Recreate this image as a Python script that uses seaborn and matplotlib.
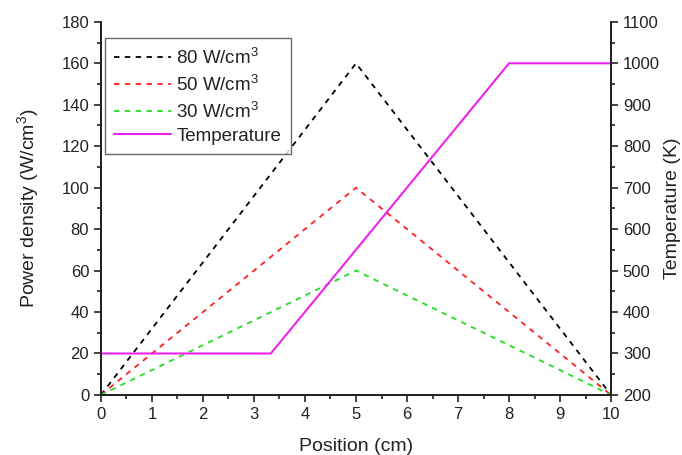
import matplotlib
matplotlib.use('Agg')
import matplotlib.pyplot as plt
from matplotlib.ticker import AutoMinorLocator
import pandas as pd
import seaborn as sns

# power density profiles (W/cm3) vs position (cm)
position = [0, 5, 10]
p80 = [0, 160, 0]
p50 = [0, 100, 0]
p30 = [0, 60, 0]

# temperature profile (K)
temp_pos = [0, 3.33, 8, 10]
temperature = [300, 300, 1000, 1000]

sns.set_style('ticks')
plt.rcParams['font.family'] = ['Liberation Sans', 'DejaVu Sans']
plt.rcParams['mathtext.fontset'] = 'custom'
plt.rcParams['mathtext.rm'] = 'Liberation Sans'
plt.rcParams['text.color'] = '#222222'
plt.rcParams['axes.labelcolor'] = '#222222'
plt.rcParams['xtick.color'] = '#222222'
plt.rcParams['ytick.color'] = '#222222'

df = pd.DataFrame({'pos': position, 'p80': p80, 'p50': p50, 'p30': p30})
tdf = pd.DataFrame({'pos': temp_pos, 'T': temperature})

fig = plt.figure(figsize=(6.82, 4.55), dpi=100)
ax = fig.add_axes([0.148, 0.132, 0.748, 0.820])
ax2 = ax.twinx()

dash = (0, (3, 3))
sns.lineplot(data=df, x='pos', y='p80', ax=ax, color='black', linestyle=dash, lw=1.3, label='80 W/cm$^3$')
sns.lineplot(data=df, x='pos', y='p50', ax=ax, color='#ff2020', linestyle=dash, lw=1.3, label='50 W/cm$^3$')
sns.lineplot(data=df, x='pos', y='p30', ax=ax, color='#22dd22', linestyle=dash, lw=1.3, label='30 W/cm$^3$')
sns.lineplot(data=tdf, x='pos', y='T', ax=ax2, color='#ee22ee', lw=1.5, label='Temperature', legend=False)

ax.set_xlim(0, 10)
ax.set_ylim(0, 180)
ax2.set_ylim(200, 1100)
ax.set_xticks(range(0, 11))
ax.set_yticks(range(0, 181, 20))
ax2.set_yticks(range(200, 1101, 100))
for a in (ax, ax2):
    a.yaxis.set_minor_locator(AutoMinorLocator(2))
    a.tick_params(which='major', direction='out', length=5, width=1.2, labelsize=12)
    a.tick_params(which='minor', direction='out', length=3, width=1.2)
    for s in a.spines.values():
        s.set_linewidth(1.3)
        s.set_color('#222222')
    a.spines['top'].set_visible(False)
ax.xaxis.set_minor_locator(AutoMinorLocator(2))

ax.set_xlabel('Position (cm)', fontsize=14, labelpad=12)
ax.set_ylabel('Power density (W/cm$^3$)', fontsize=14, labelpad=14)
ax2.set_ylabel('Temperature (K)', fontsize=14, labelpad=3)

h1, l1 = ax.get_legend_handles_labels()
h2, l2 = ax2.get_legend_handles_labels()
leg = ax.legend(h1 + h2, l1 + l2, loc='upper left', bbox_to_anchor=(0.008, 0.957),
                borderaxespad=0, fontsize=13.5, frameon=True, fancybox=False,
                edgecolor='#444444', handlelength=3.0, handletextpad=0.3,
                labelspacing=0.32, borderpad=0.5)
leg.get_frame().set_linewidth(1.0)

fig.savefig('out.png', dpi=100)
